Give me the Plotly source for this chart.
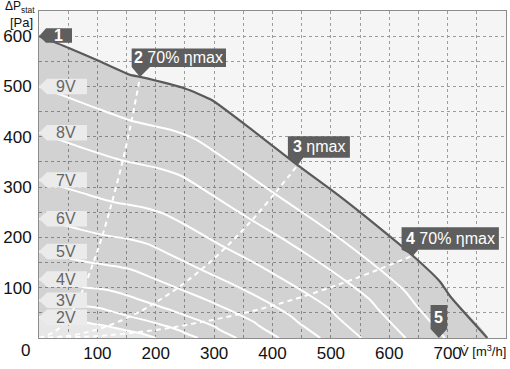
import plotly.graph_objects as go

# ---------------- data ----------------
# maximum curve (10 V)
top_q = [0, 50, 100, 156, 173, 250, 296, 360, 439, 516, 580, 639, 687, 705, 768]
top_p = [600, 577, 552, 523, 519, 496, 473, 418, 347, 281, 222, 165, 112, 82, 0]

# speed curves per control voltage
v9_q = [0, 91, 158, 228, 270, 329, 401, 471, 530, 583, 627, 644, 695]
v9_p = [500, 460, 432, 413, 394, 348, 289, 234, 185, 137, 93, 68, 0]
v8_q = [0, 82, 143, 206, 244, 297, 362, 426, 479, 527, 567, 582, 628]
v8_p = [408, 375, 353, 337, 322, 284, 236, 191, 151, 112, 76, 56, 0]
v7_q = [0, 72, 125, 181, 214, 260, 317, 373, 419, 462, 497, 510, 552]
v7_p = [314, 289, 271, 259, 247, 219, 181, 147, 116, 86, 59, 43, 0]
v6_q = [0, 63, 109, 157, 186, 226, 276, 324, 364, 401, 431, 443, 482]
v6_p = [237, 218, 205, 196, 187, 165, 137, 111, 88, 65, 44, 32, 0]
v5_q = [0, 53, 93, 134, 158, 193, 235, 276, 310, 342, 368, 377, 411]
v5_p = [172, 158, 149, 142, 136, 120, 100, 81, 64, 47, 32, 24, 0]
v4_q = [0, 44, 76, 110, 130, 158, 193, 227, 255, 281, 302, 310, 338]
v4_p = [117, 108, 101, 97, 92, 82, 68, 55, 43, 32, 22, 16, 0]
v3_q = [0, 35, 61, 89, 105, 127, 155, 183, 205, 226, 243, 250, 272]
v3_p = [75, 69, 65, 62, 59, 52, 43, 35, 28, 21, 14, 10, 0]
v2_q = [0, 26, 45, 65, 77, 94, 115, 135, 151, 167, 179, 184, 200]
v2_p = [41, 38, 35, 34, 32, 28, 24, 19, 15, 11, 8, 6, 0]

volt_names = ["9V", "8V", "7V", "6V", "5V", "4V", "3V", "2V"]
volt_q = [v9_q, v8_q, v7_q, v6_q, v5_q, v4_q, v3_q, v2_q]
volt_p = [v9_p, v8_p, v7_p, v6_p, v5_p, v4_p, v3_p, v2_p]

# system (efficiency) curves through operating points 2, 3, 4
sys2_q = [0, 30, 55, 75, 90, 105, 125, 145, 160, 173]
sys2_p = [0, 15, 50, 95, 140, 190, 270, 360, 440, 519]
sys3_q = [0, 60, 110, 160, 210, 260, 310, 360, 410, 444]
sys3_p = [0, 6, 21, 45, 78, 119, 169, 228, 296, 345]
sys4_q = [0, 100, 200, 280, 360, 440, 520, 590, 641]
sys4_p = [0, 4, 16, 32, 52, 78, 109, 140, 164]

# operating-point markers 1..5
op_names = ["1", "2", "3", "4", "5"]
op_extra = ["", " 70% ηmax", " ηmax", " 70% ηmax", ""]
op_q = [0, 173, 444, 641, 685]
op_p = [600, 519, 345, 164, 0]

x_ticks = [100, 200, 300, 400, 500, 600, 700]
y_ticks = [100, 200, 300, 400, 500, 600]

# ---------------- figure ----------------
fig = go.Figure()

# shaded working area: between max curve and the 2 V curve
poly_q = top_q + list(reversed(v2_q))
poly_p = top_p + list(reversed(v2_p))
fig.add_trace(go.Scatter(x=v2_q, y=v2_p, mode="lines", line=dict(width=0, shape="spline"),
                         fill="tozeroy", fillcolor="rgba(0,0,0,0.055)", hoverinfo="skip"))
fig.add_trace(go.Scatter(x=poly_q, y=poly_p, mode="lines", line=dict(width=0, shape="spline", smoothing=0.5),
                         fill="toself", fillcolor="rgba(0,0,0,0.14)", hoverinfo="skip"))

for q, p in zip(volt_q, volt_p):
    fig.add_trace(go.Scatter(x=q, y=p, mode="lines",
                             line=dict(color="white", width=2, shape="spline", smoothing=0.6)))

for q, p in [(sys2_q, sys2_p), (sys3_q, sys3_p), (sys4_q, sys4_p)]:
    fig.add_trace(go.Scatter(x=q, y=p, mode="lines",
                             line=dict(color="white", width=2, dash="5px,4px", shape="spline")))

fig.add_trace(go.Scatter(x=top_q, y=top_p, mode="lines",
                         line=dict(color="#5a5a5a", width=2.2, shape="spline", smoothing=0.5)))

shapes = []
annotations = []
FONT = "Arial"

# voltage labels (light pentagons pointing left)
for name, p in zip(volt_names, volt_p):
    shapes.append(dict(type="path", xref="x", yref="y", xsizemode="pixel", ysizemode="pixel",
                       xanchor=0, yanchor=p[0],
                       path="M0,0 L8,7.8 L48,7.8 L48,-7.8 L8,-7.8 Z",
                       fillcolor="#ebebeb", line=dict(width=0), layer="above"))
    annotations.append(dict(x=0, y=p[0], xref="x", yref="y", text=name, showarrow=False,
                            xshift=27, yshift=0, font=dict(family=FONT, size=16, color="#666666")))

# operating point labels (dark)
dark = "#5e5e5e"
op_paths = [
    "M0,0 L7,8 L33,8 L33,-6.7 L7,-6.7 Z",
    "M0,0 L-8.3,10 L-8.3,28.3 L86,28.3 L86,10 L10,10 Z",
    "M0,0 L-10.3,6.6 L-10.3,28.3 L51.7,28.3 L51.7,6.6 L5,6.6 Z",
    "M0,0 L-11.6,5.7 L-11.6,28.3 L85.7,28.3 L85.7,5.7 L5,5.7 Z",
    "M0,0 L-8.3,9 L-8.3,33 L8.3,33 L8.3,9 Z",
]
op_text_shift = [(19, 1), (38.9, 19.2), (20.7, 17.5), (37, 17), (0, 21)]
for name, extra, q, p, path, (dx, dy) in zip(op_names, op_extra, op_q, op_p, op_paths, op_text_shift):
    shapes.append(dict(type="path", xref="x", yref="y", xsizemode="pixel", ysizemode="pixel",
                       xanchor=q, yanchor=p, path=path, fillcolor=dark, line=dict(width=0),
                       layer="above"))
    annotations.append(dict(x=q, y=p, xref="x", yref="y", text="<b>" + name + "</b>" + extra,
                            showarrow=False, xshift=dx, yshift=dy,
                            font=dict(family=FONT, size=16, color="white")))

# axis titles and origin label
annotations.append(dict(x=0, y=0, xref="x", yref="y", text="0", showarrow=False,
                        xshift=-14, yshift=-12, font=dict(family=FONT, size=17, color="#111")))
annotations.append(dict(x=1, y=0, xref="paper", yref="paper", xanchor="right", yanchor="top",
                        text="V̇ [m<sup>3</sup>/h]", showarrow=False, xshift=2, yshift=-3,
                        font=dict(family=FONT, size=13, color="#111")))
annotations.append(dict(x=0, y=1, xref="paper", yref="paper", xanchor="left", yanchor="middle",
                        text="ΔP<sub>stat</sub>", showarrow=False, xshift=-36, yshift=4,
                        font=dict(family=FONT, size=12, color="#111")))
annotations.append(dict(x=0, y=1, xref="paper", yref="paper", xanchor="left", yanchor="middle",
                        text="[Pa]", showarrow=False, xshift=-31, yshift=-11,
                        font=dict(family=FONT, size=13, color="#111")))

grid = "#9c9c9c"
axis_common = dict(showgrid=True, gridcolor=grid, griddash="dot", gridwidth=1, zeroline=False,
                   showline=True, linecolor="#8c8c8c", linewidth=1, mirror=True, ticks="",
                   automargin=False, tickfont=dict(family=FONT, size=17, color="#111"),
                   minor=dict(tickmode="linear", tick0=0, dtick=50, showgrid=True, gridcolor=grid,
                              griddash="dot", gridwidth=1))
fig.update_layout(
    width=510, height=369,
    margin=dict(l=39, r=4, t=11, b=31, autoexpand=False),
    paper_bgcolor="white", plot_bgcolor="#f5f5f5",
    showlegend=False,
    shapes=shapes, annotations=annotations,
    xaxis=dict(range=[0, 800], tickvals=x_ticks, **axis_common),
    yaxis=dict(range=[0, 650], tickvals=y_ticks, ticklabelstandoff=3, **axis_common),
)

fig.write_html("out.html", config={"displayModeBar": False},
               post_script="document.body.style.margin='0';document.body.style.padding='0';")
